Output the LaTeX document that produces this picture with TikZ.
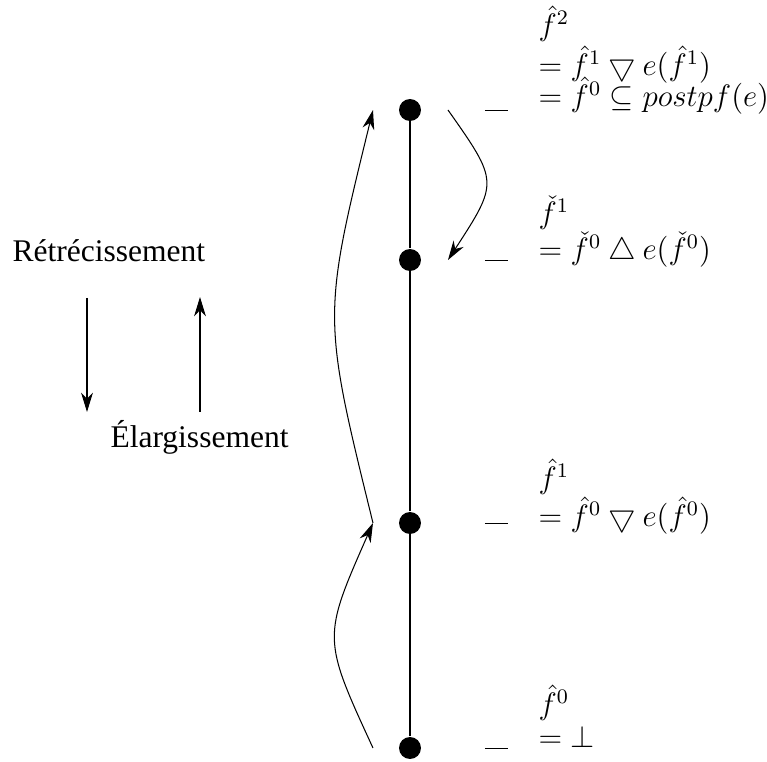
\documentclass[tikz,border=0pt]{standalone}
\usepackage{fontspec}
\newfontfamily\timesfont{Liberation Serif}
\usetikzlibrary{arrows.meta}

\begin{document}
\begin{tikzpicture}[
  x=0.387pt,y=0.387pt,
  font=\fontsize{12}{13}\selectfont,
  dot/.style={circle,fill,inner sep=0pt,minimum size=8.5pt},
  val/.style={anchor=base west,align=left,inner sep=0pt},
  word/.style={anchor=base west,inner sep=0pt,font=\fontsize{12.2}{13}\selectfont\timesfont},
  arr/.style={-{Stealth[length=7.5pt,width=4.6pt,inset=2.4pt]},line width=0.4pt}]
\useasboundingbox (0,0) rectangle (767,762);
% points of the chain
\node[dot] (p0) at (410,14) {};
\node[dot] (p1) at (410,239) {};
\node[dot] (p2) at (410,502) {};
\node[dot] (p3) at (410,652) {};
\draw[line width=0.4pt] (p0) -- (p1) -- (p2) -- (p3);
\foreach \p in {p0,p1,p2,p3} \draw[line width=0.3pt] ([shift={(75,0)}]\p.center) -- ++(23,0);
% values
\node[val] (v3) at ([shift={(128,3)}]p3.center) {$\hat{f}^2$\\[0.8pt]$=\hat{f}^1 \bigtriangledown e(\hat{f}^1)$\\[-3.4pt]$=\hat{f}^0 \subseteq postpf(e)$};
\node[val] (v2) at ([shift={(128,0)}]p2.center) {$\check{f}^1$\\$=\check{f}^0 \bigtriangleup e(\check{f}^0)$};
\node[val] (v1) at ([shift={(128,-4)}]p1.center) {$\hat{f}^1$\\$=\hat{f}^0 \bigtriangledown e(\hat{f}^0)$};
\node[val] (v0) at ([shift={(128,0)}]p0.center) {$\hat{f}^0$\\$=\bot$};
% iterations
\coordinate (c0) at (373,14);
\coordinate (c1) at (373,239);
\coordinate (c2) at (373,652);
\coordinate (c3) at (448,652);
\coordinate (c4) at (448,502);
\draw[arr] (c0) .. controls +(-50.7,110) and +(-50.7,-115) .. (c1);
\draw[arr] (c1) .. controls +(-50.7,206) and +(-50.7,-207) .. (c2);
\draw[arr] (c3) .. controls +(50.7,-72) and +(50.7,78) .. (c4);
% legend
\node[word] (nar) at (12,500) {Rétrécissement};
\node[word] (wid) at (110,314) {Élargissement};
\coordinate (a0) at (87,464);
\coordinate (a1) at (87,350);
\coordinate (b0) at (200,350);
\coordinate (b1) at (200,465);
\draw[arr] (a0) -- (a1);
\draw[arr] (b0) -- (b1);
\end{tikzpicture}
\end{document}
